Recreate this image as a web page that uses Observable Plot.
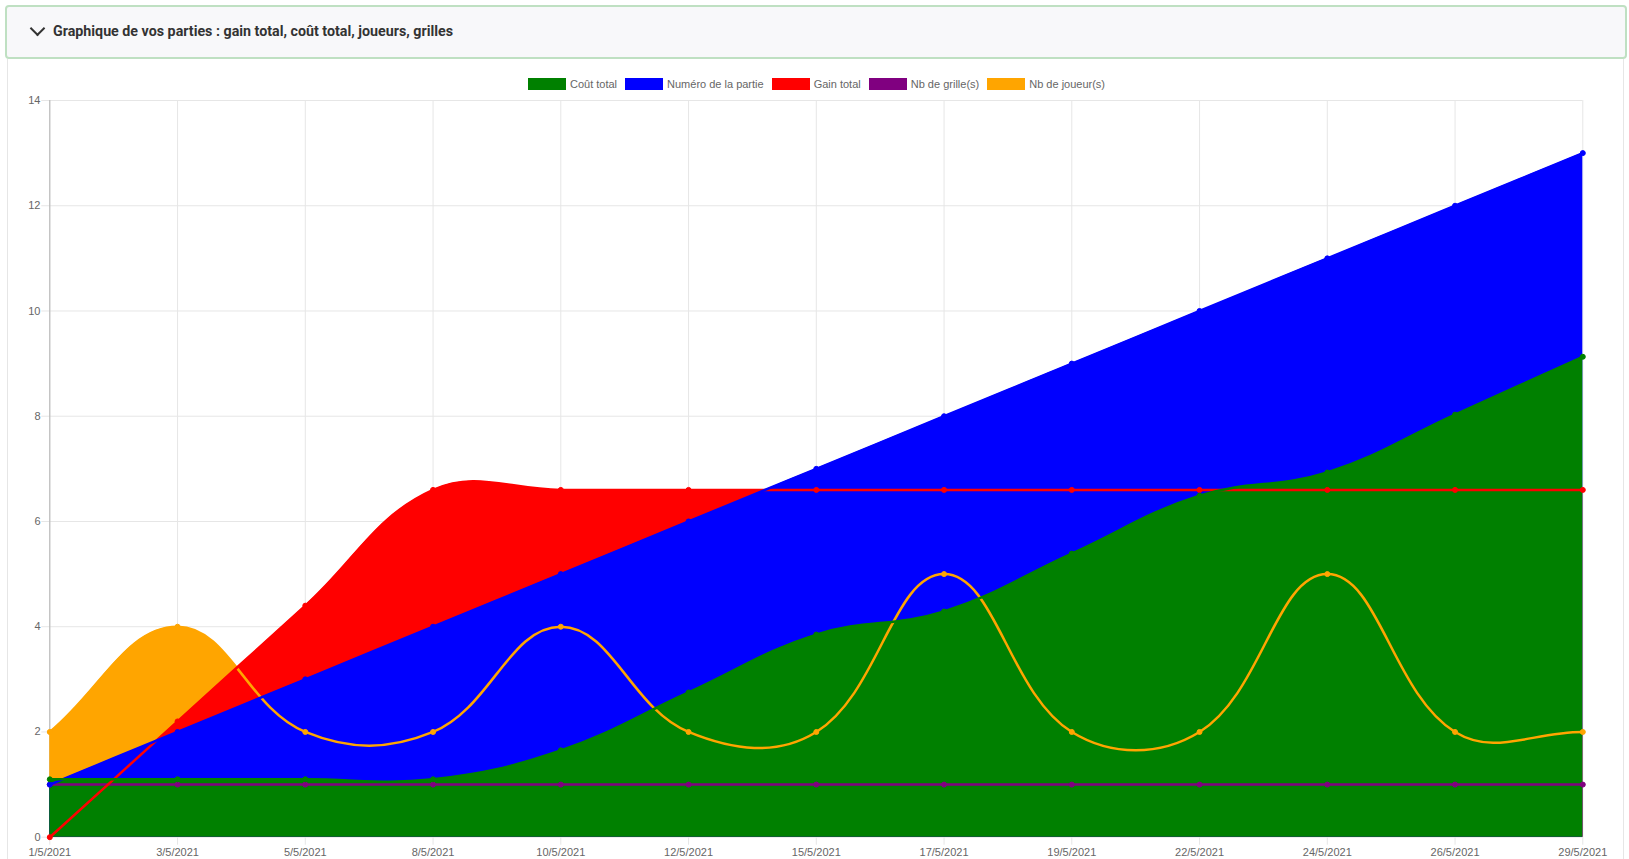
<!DOCTYPE html>
<html>
<head>
<meta charset="utf-8">
<script src="https://cdn.jsdelivr.net/npm/d3@7"></script>
<script src="https://cdn.jsdelivr.net/npm/@observablehq/plot@0.6"></script>
<style>
  html, body { margin: 0; padding: 0; background: #ffffff; }
  body { width: 1629px; height: 859px; position: relative; overflow: hidden; font-family: "Liberation Sans", Arial, sans-serif; }
  #header { position: absolute; left: 5px; top: 5px; width: 1618px; height: 50px; border: 2px solid #bfe0c2; border-radius: 4px; background: #f8f8fa; }
  #chev { position: absolute; left: 25px; top: 16px; width: 9px; height: 9px; border-right: 2px solid #333; border-bottom: 2px solid #333; transform: rotate(45deg); }
  #title { position: absolute; left: 46px; top: 15px; font-family: Roboto, sans-serif; font-weight: 700; font-size: 15px; color: #333; white-space: nowrap; transform-origin: 0 50%; }
  #panel { position: absolute; left: 7px; top: 59px; width: 1615px; height: 810px; border-left: 1px solid #e6e6e6; border-right: 1px solid #e6e6e6; }
  #chart { position: absolute; left: 0; top: 60px; }
  #legend { position: absolute; left: 0; width: 1629px; top: 78px; display: flex; justify-content: center; gap: 8px; font-size: 11px; color: #666; font-family: "Liberation Sans", Arial, sans-serif; padding-left: 2px; }
  .item { display: flex; align-items: center; gap: 4px; }
  .sw { width: 38px; height: 12px; }
</style>
</head>
<body>
<div id="header"><div id="chev"></div><div id="title">Graphique de vos parties : gain total, coût total, joueurs, grilles</div></div>
<div id="panel"></div>
<div id="chart"></div>
<div id="legend"></div>
<script>
// ---- data ----
const dates = ["1/5/2021","3/5/2021","5/5/2021","8/5/2021","10/5/2021","12/5/2021","15/5/2021","17/5/2021","19/5/2021","22/5/2021","24/5/2021","26/5/2021","29/5/2021"];
const coutTotal   = [1.1, 1.1, 1.1, 1.1, 1.65, 2.75, 3.85, 4.29, 5.39, 6.49, 6.93, 8.03, 9.13];
const numeroPartie = [1, 2, 3, 4, 5, 6, 7, 8, 9, 10, 11, 12, 13];
const gainTotal   = [0, 2.2, 4.4, 6.6, 6.6, 6.6, 6.6, 6.6, 6.6, 6.6, 6.6, 6.6, 6.6];
const nbGrilles   = [1, 1, 1, 1, 1, 1, 1, 1, 1, 1, 1, 1, 1];
const nbJoueurs   = [2, 4, 2, 2, 4, 2, 2, 5, 2, 2, 5, 2, 2];
const seriesNames = ["Coût total", "Numéro de la partie", "Gain total", "Nb de grille(s)", "Nb de joueur(s)"];
const seriesColors = ["green", "blue", "red", "purple", "orange"];
const seriesValues = [coutTotal, numeroPartie, gainTotal, nbGrilles, nbJoueurs];
const yTicks = [0, 2, 4, 6, 8, 10, 12, 14];

// ---- layout ----
const W = 1629, H = 799;
const mL = 49.3, mR = 46.7, mT = 40, mB = 22.3;

// Chart.js-like spline (tension 0.4) with control points capped to the chart area
function chartjsCurve(T, x0, x1, y0, y1) {
  const cx = v => Math.max(x0, Math.min(x1, v));
  const cy = v => Math.max(y0, Math.min(y1, v));
  return function(context) {
    return {
      _line: undefined,
      areaStart() { this._line = 0; },
      areaEnd() { this._line = NaN; },
      lineStart() { this._pts = []; },
      point(x, y) { this._pts.push([+x, +y]); },
      lineEnd() {
        const p = this._pts, n = p.length, c = context;
        if (n) {
          if (this._line) c.lineTo(p[0][0], p[0][1]); else c.moveTo(p[0][0], p[0][1]);
          if (n > 1) {
            const cps = p.map((cur, i) => {
              const prev = i > 0 ? p[i - 1] : cur, next = i < n - 1 ? p[i + 1] : cur;
              const d01 = Math.hypot(cur[0] - prev[0], cur[1] - prev[1]);
              const d12 = Math.hypot(next[0] - cur[0], next[1] - cur[1]);
              let s01 = d01 / (d01 + d12), s12 = d12 / (d01 + d12);
              if (isNaN(s01)) s01 = 0;
              if (isNaN(s12)) s12 = 0;
              const fa = T * s01, fb = T * s12;
              const dx = next[0] - prev[0], dy = next[1] - prev[1];
              return { px: cx(cur[0] - fa * dx), py: cy(cur[1] - fa * dy), nx: cx(cur[0] + fb * dx), ny: cy(cur[1] + fb * dy) };
            });
            for (let i = 0; i < n - 1; i++) {
              c.bezierCurveTo(cps[i].nx, cps[i].ny, cps[i + 1].px, cps[i + 1].py, p[i + 1][0], p[i + 1][1]);
            }
          }
        }
        if (this._line || (this._line !== 0 && n === 1)) c.closePath();
        this._line = 1 - this._line;
      }
    };
  };
}
const curve = chartjsCurve(0.4, mL, W - mR, mT, H - mB);

const tables = seriesValues.map((vals, s) => dates.map((d, i) => ({ date: d, value: vals[i], name: seriesNames[s] })));
const order = [4, 3, 2, 1, 0]; // Chart.js draws the last dataset first

const marks = [
  Plot.ruleY(yTicks, { y: d => d, stroke: "#e6e6e6", strokeWidth: 1, insetLeft: -8 }),
  Plot.ruleX(dates, { x: d => d, stroke: "#e6e6e6", strokeWidth: 1, insetBottom: -8 }),
  Plot.ruleX([dates[0]], { x: d => d, stroke: "#b3b3b3", strokeWidth: 1 }),
];
for (const s of order) {
  marks.push(Plot.areaY(tables[s], { x: "date", y: "value", fill: seriesColors[s], curve }));
}
for (const s of order) {
  marks.push(Plot.lineY(tables[s], { x: "date", y: "value", stroke: seriesColors[s], strokeWidth: 2.5, curve }));
  marks.push(Plot.dot(tables[s], { x: "date", y: "value", fill: seriesColors[s], stroke: seriesColors[s], strokeWidth: 1, r: 2.5 }));
}
marks.push(Plot.axisY(yTicks, { tickSize: 0, tickPadding: 9.3, fontSize: 11, fill: "#666", tickFormat: d => String(d) }));
marks.push(Plot.axisX(dates, { tickSize: 0, tickPadding: 11, fontSize: 11, fill: "#666" }));

const chart = Plot.plot({
  width: W, height: H,
  marginLeft: mL, marginRight: mR, marginTop: mT, marginBottom: mB,
  style: { fontFamily: "'Liberation Sans', Arial, sans-serif", background: "transparent", overflow: "visible" },
  x: { type: "point", domain: dates, padding: 0, round: false, label: null },
  y: { domain: [0, 14], label: null },
  marks
});
document.getElementById("chart").appendChild(chart);

// legend
const lg = document.getElementById("legend");
seriesNames.forEach((n, i) => {
  const it = document.createElement("div"); it.className = "item";
  const sw = document.createElement("div"); sw.className = "sw"; sw.style.background = seriesColors[i];
  const t = document.createElement("span"); t.textContent = n;
  it.appendChild(sw); it.appendChild(t); lg.appendChild(it);
});

// title width fit (condensed look)
const title = document.getElementById("title");
const w = title.getBoundingClientRect().width;
title.style.transform = `scaleX(${400 / w})`;
</script>
</body>
</html>
